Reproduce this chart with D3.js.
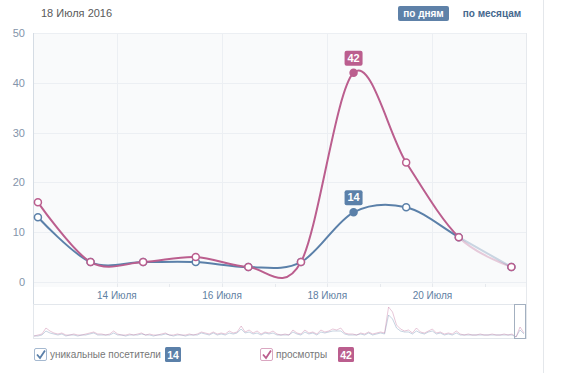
<!DOCTYPE html>
<html>
<head>
<meta charset="utf-8">
<script src="https://cdn.jsdelivr.net/npm/d3@7.9.0/dist/d3.min.js"></script>
<style>
  body { margin: 0; background: #fff; }
  svg { display: block; font-family: "Liberation Sans", Arial, sans-serif; }
</style>
</head>
<body>
<svg id="chart" width="567" height="373"></svg>
<script>
// ---------- DATA ----------
const days = ["2016-07-12", "2016-07-13", "2016-07-14", "2016-07-15", "2016-07-16",
              "2016-07-17", "2016-07-18", "2016-07-19", "2016-07-20", "2016-07-21"];
const views   = [16, 4, 4, 5, 3, 4, 42, 24, 9, 3];
const uniques = [13, 4, 4, 4, 3, 4, 14, 15, 9, 3];
const selected = 6; // 18 Июля
const yTicks = [0, 10, 20, 30, 40, 50];
const monthLabel = "Июля";
const title = "18 Июля 2016";
const modes = ["по дням", "по месяцам"];
const seriesNames = ["уникальные посетители", "просмотры"];

// overview strip under the chart (whole period, fine steps)
const navViews = [1,2,3,9,6,4,3,4,2,2,3,2,2,3,4,5,3,3,2,3,6,3,2,2,3,2,3,4,2,3,
  2,2,3,4,2,2,3,2,2,3,2,3,5,4,3,5,3,4,3,6,4,5,11,5,7,4,6,3,5,4,
  6,3,2,3,2,7,4,3,7,4,5,3,7,5,6,8,7,9,4,3,3,2,4,3,5,3,4,5,4,30,
  25,12,8,6,7,4,9,5,4,6,8,4,5,3,4,3,6,3,2,3,2,2,3,2,2,3,2,2,3,2,
  3,0,10,4];
const navUniques = [1,1,2,6,4,3,2,3,1,2,2,1,2,2,3,4,2,2,2,2,4,2,2,1,2,2,2,3,2,2,
  1,2,2,3,2,1,2,2,1,2,2,2,4,3,2,4,2,3,2,4,3,4,8,4,5,3,4,2,4,3,
  4,2,2,2,2,5,3,2,5,3,4,2,5,4,5,6,6,6,3,2,2,2,3,2,4,2,3,4,3,22,
  18,9,6,5,5,3,6,4,3,5,6,3,4,2,3,2,4,2,2,2,2,2,2,2,2,2,2,2,2,2,
  2,0,7,3];

const blue = "#5b80a9";
const pink = "#bb5e8e";

const svg = d3.select("#chart");

// ---------- SCALES ----------
const plotL = 33, plotR = 526, plotT = 33, plotB = 282;

const x = d3.scaleTime()
  .domain([new Date(2016, 6, 12, 9, 45), new Date(2016, 6, 21, 18, 40)])
  .range([plotL, plotR]);
const y = d3.scaleLinear().domain([0, 50]).range([plotB, plotT]);

const pts = days.map((d, i) => ({
  date: new Date(d + "T12:00:00"),
  views: views[i],
  uniques: uniques[i]
}));

// ---------- HEADER ----------
svg.append("text")
  .attr("x", 41).attr("y", 17)
  .attr("font-size", 11).attr("fill", "#5a5a5a")
  .text(title);

svg.append("rect")
  .attr("x", 398).attr("y", 6).attr("width", 51).attr("height", 15)
  .attr("rx", 2).attr("fill", "#5e81a8");
svg.append("text")
  .attr("x", 423.5).attr("y", 17)
  .attr("text-anchor", "middle").attr("font-size", 10).attr("font-weight", "bold")
  .attr("fill", "#fff").text(modes[0]);
svg.append("text")
  .attr("x", 492).attr("y", 17)
  .attr("text-anchor", "middle").attr("font-size", 10).attr("font-weight", "bold")
  .attr("fill", "#45688e").text(modes[1]);

// page divider
svg.append("line")
  .attr("x1", 543.5).attr("x2", 543.5).attr("y1", 0).attr("y2", 373)
  .attr("stroke", "#e4e7eb");

// ---------- PLOT FRAME & GRID ----------
svg.append("rect")
  .attr("x", plotL).attr("y", plotT).attr("width", plotR - plotL).attr("height", 254)
  .attr("fill", "#f9fafb");

svg.append("g")
  .selectAll("line")
  .data(yTicks)
  .join("line")
  .attr("x1", plotL).attr("x2", plotR)
  .attr("y1", d => Math.round(y(d)) + 0.5).attr("y2", d => Math.round(y(d)) + 0.5)
  .attr("stroke", "#eceff3");

const allDays = d3.timeDay.range(x.domain()[0], x.domain()[1]).slice(1);
const labelDays = allDays.filter(d => d.getDate() % 2 === 0);

svg.append("g")
  .selectAll("line")
  .data(labelDays)
  .join("line")
  .attr("x1", d => Math.round(x(d)) + 0.5).attr("x2", d => Math.round(x(d)) + 0.5)
  .attr("y1", plotT).attr("y2", 287)
  .attr("stroke", "#eceff3");

// small day ticks along bottom
svg.append("g")
  .selectAll("line")
  .data(allDays)
  .join("line")
  .attr("x1", d => Math.round(x(d)) + 0.5).attr("x2", d => Math.round(x(d)) + 0.5)
  .attr("y1", 284).attr("y2", 288)
  .attr("stroke", "#e6e9ed");

// x labels band
svg.append("rect")
  .attr("x", plotL).attr("y", 287).attr("width", plotR - plotL).attr("height", 17)
  .attr("fill", "#fff");

svg.append("line")
  .attr("x1", plotR + 0.5).attr("x2", plotR + 0.5).attr("y1", plotT).attr("y2", 304)
  .attr("stroke", "#e6e9ed");

// y axis line
svg.append("line")
  .attr("x1", plotL + 0.5).attr("x2", plotL + 0.5).attr("y1", plotT).attr("y2", 304)
  .attr("stroke", "#d5dce4");

svg.append("g")
  .selectAll("text")
  .data(yTicks)
  .join("text")
  .attr("x", 25).attr("y", d => y(d) + 4)
  .attr("text-anchor", "end").attr("font-size", 11)
  .attr("fill", "#8394aa")
  .text(d => d);

svg.append("g")
  .selectAll("text")
  .data(labelDays)
  .join("text")
  .attr("x", d => x(d)).attr("y", 299)
  .attr("text-anchor", "middle").attr("font-size", 10)
  .attr("fill", "#5f7fa3")
  .text(d => d.getDate() + " " + monthLabel);

// ---------- LINES ----------
const splitX = x(pts[8].date);
const defs = svg.append("defs");
defs.append("clipPath").attr("id", "solid")
  .append("rect").attr("x", 0).attr("y", 0).attr("width", splitX).attr("height", 300);
defs.append("clipPath").attr("id", "faint")
  .append("rect").attr("x", splitX).attr("y", 0).attr("width", 567).attr("height", 300);

const series = [
  { key: "uniques", color: blue },
  { key: "views", color: pink }
];

series.forEach(s => {
  const line = d3.line()
    .x(d => x(d.date))
    .y(d => y(d[s.key]))
    .curve(d3.curveCatmullRom.alpha(0));
  svg.append("path")
    .datum(pts)
    .attr("clip-path", "url(#faint)")
    .attr("fill", "none")
    .attr("stroke", s.color).attr("stroke-opacity", 0.3)
    .attr("stroke-width", 2)
    .attr("d", line);
  svg.append("path")
    .datum(pts)
    .attr("clip-path", "url(#solid)")
    .attr("fill", "none")
    .attr("stroke", s.color)
    .attr("stroke-width", 2)
    .attr("d", line);
});

series.forEach(s => {
  svg.append("g")
    .selectAll("circle")
    .data(pts)
    .join("circle")
    .attr("cx", d => x(d.date))
    .attr("cy", d => y(d[s.key]))
    .attr("r", 3.5)
    .attr("fill", (d, i) => i === selected ? s.color : "#fff")
    .attr("stroke", s.color)
    .attr("stroke-width", 1.5);
});

// value badges for the selected day
series.forEach(s => {
  const d = pts[selected];
  const cx = x(d.date), cy = y(d[s.key]);
  const g = svg.append("g");
  g.append("rect")
    .attr("x", cx - 9).attr("y", cy - 22).attr("width", 18).attr("height", 15)
    .attr("rx", 2).attr("fill", s.color);
  g.append("text")
    .attr("x", cx).attr("y", cy - 11)
    .attr("text-anchor", "middle").attr("font-size", 11).attr("font-weight", "bold")
    .attr("fill", "#fff")
    .text(d[s.key]);
});

// ---------- OVERVIEW STRIP ----------
const n = Math.min(navViews.length, navUniques.length);
const nx = d3.scaleLinear().domain([0, n - 1]).range([plotL + 1, 524]);
const ny = d3.scaleLinear().domain([0, 30]).range([337, 307]);

svg.append("rect")
  .attr("x", plotL + 0.5).attr("y", 304.5).attr("width", plotR - plotL).attr("height", 34)
  .attr("fill", "#fff").attr("stroke", "#e3e7ec");

[[navUniques, blue], [navViews, pink]].forEach(([arr, color]) => {
  svg.append("path")
    .datum(arr.slice(0, n))
    .attr("fill", "none")
    .attr("stroke", color).attr("stroke-opacity", 0.35)
    .attr("stroke-width", 1)
    .attr("d", d3.line().x((d, i) => nx(i)).y(d => ny(d)));
});

svg.append("rect")
  .attr("x", 514.5).attr("y", 304.5).attr("width", 11).attr("height", 34)
  .attr("fill", "none").attr("stroke", "#a3b0c0");

// ---------- LEGEND ----------
const legend = [
  { name: seriesNames[0], color: blue, box: 34, text: 50, badge: 165, value: uniques[selected] },
  { name: seriesNames[1], color: pink, box: 260, text: 276, badge: 338, value: views[selected] }
];

legend.forEach(l => {
  const g = svg.append("g");
  g.append("rect")
    .attr("x", l.box + 0.5).attr("y", 348.5).attr("width", 12).attr("height", 12)
    .attr("rx", 1.5).attr("fill", "#fff").attr("stroke", l.color).attr("stroke-opacity", 0.55);
  g.append("path")
    .attr("d", `M${l.box + 3},${354.5} L${l.box + 6},${358} L${l.box + 11},${350.5}`)
    .attr("fill", "none").attr("stroke", l.color).attr("stroke-width", 1.8);
  g.append("text")
    .attr("x", l.text).attr("y", 358)
    .attr("font-size", 10).attr("fill", "#777")
    .text(l.name);
  g.append("rect")
    .attr("x", l.badge).attr("y", 347).attr("width", 16).attr("height", 15)
    .attr("rx", 1.5).attr("fill", l.color);
  g.append("text")
    .attr("x", l.badge + 8).attr("y", 358.5)
    .attr("text-anchor", "middle").attr("font-size", 10.5).attr("font-weight", "bold")
    .attr("fill", "#fff")
    .text(l.value);
});
</script>
</body>
</html>
